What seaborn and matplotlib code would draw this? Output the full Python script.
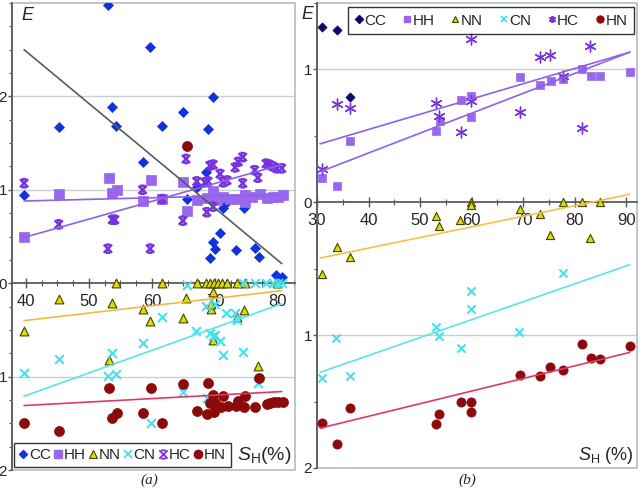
import numpy as np
import pandas as pd
import matplotlib
matplotlib.use("Agg")
import matplotlib.pyplot as plt
import seaborn as sns
from matplotlib.path import Path
from matplotlib.lines import Line2D
from matplotlib.patches import Rectangle
from matplotlib.ticker import FuncFormatter, MultipleLocator

# ---------------- data, panel (a) ----------------
# upper half: E plotted upward (CC, HH, HC)
a_cc_x = [53.0, 59.7, 69.7, 53.6, 64.9, 45.2, 54.3, 61.6, 68.9, 58.5, 68.6, 39.7, 67.1,
          65.5, 71.9, 71.3, 74.6, 70.8, 69.7, 70.0, 73.3, 76.3, 69.2, 77.0, 79.7, 80.6]
a_cc_e = [2.98, 2.53, 1.99, 1.89, 1.83, 1.67, 1.68, 1.68, 1.65, 1.30, 1.19, 0.94, 1.03,
          0.90, 0.87, 0.80, 0.80, 0.54, 0.44, 0.37, 0.36, 0.38, 0.27, 0.28, 0.09, 0.07]
a_hh_x = [39.7, 45.2, 53.2, 53.7, 54.4, 58.6, 59.8, 61.6, 65.0, 65.5, 67.1, 69.7, 68.7,
          70.3, 71.3, 72.4, 73.5, 74.8, 74.8, 75.9, 77.1, 78.3, 79.2, 80.0, 80.8]
a_hh_e = [0.50, 0.96, 1.13, 0.97, 1.00, 0.88, 1.11, 0.90, 1.08, 0.77, 0.89, 0.99, 0.91,
          0.89, 0.92, 0.90, 0.90, 0.94, 0.87, 0.92, 0.96, 0.91, 0.92, 0.92, 0.94]
a_hc_x = [39.7, 45.2, 53.7, 54.1, 53.0, 59.7, 58.5, 61.6, 64.9, 65.4, 67.1, 68.4, 68.9,
          69.2, 69.7, 70.8, 71.3, 71.9, 68.7, 69.7, 73.2, 73.7, 74.4, 74.4, 76.3, 76.8,
          78.1, 78.6, 79.2, 79.8, 80.6]
a_hc_e = [1.07, 0.63, 0.68, 0.68, 0.37, 0.37, 1.00, 0.90, 0.67, 1.33, 1.09, 1.08, 1.09,
          1.26, 1.27, 1.17, 1.08, 1.10, 0.76, 0.82, 1.24, 1.30, 1.35, 1.07, 1.21, 1.13,
          1.28, 1.27, 1.25, 1.23, 1.23]
# lower half: E plotted downward (NN, CN, HN)
a_nn_x = [54.3, 61.6, 67.1, 68.6, 69.2, 69.9, 70.5, 71.1, 71.9, 73.5, 74.8, 79.8, 45.2,
          53.6, 65.4, 58.6, 69.7, 69.3, 59.7, 64.9, 73.5, 74.6, 39.7, 69.7, 53.2, 76.8, 69.3]
a_nn_e = [0, 0, 0, 0, 0, 0, 0, 0, 0, 0, 0, 0, 0.17,
          0.21, 0.16, 0.28, 0.09, 0.28, 0.40, 0.37, 0.36, 0.29, 0.51, 0.61, 0.82, 0.89, 0.22]
a_cn_x = [39.7, 45.2, 53.6, 53.0, 54.3, 58.6, 61.6, 65.5, 59.8, 64.9, 67.0, 68.6, 70.0,
          69.2, 69.7, 70.0, 70.8, 71.3, 71.7, 73.2, 73.5, 74.4, 68.7, 76.8, 74.4, 76.3,
          78.1, 79.2, 80.0, 80.6]
a_cn_e = [0.96, 0.81, 0.75, 0.99, 0.97, 0.64, 0.36, 0.02, 1.50, 1.16, 0.51, 0.24, 0.22,
          0.53, 0.57, 0.55, 0.62, 0.77, 0.32, 0.32, 0.39, 0.74, 1.23, 1.07, 0, 0,
          0, 0, 0, 0]
a_hn_x = [39.7, 45.2, 53.2, 53.7, 54.4, 58.5, 59.8, 61.6, 64.9, 67.1, 68.7, 68.9, 69.7,
          69.2, 70.0, 69.8, 70.9, 71.3, 72.1, 73.3, 73.7, 74.6, 74.8, 76.3, 77.0, 78.3,
          78.7, 79.4, 80.0, 80.8, 65.5]
a_hn_e = [1.50, 1.58, 1.12, 1.44, 1.39, 1.39, 1.12, 1.50, 1.08, 1.37, 1.40, 1.07, 1.20,
          1.28, 1.28, 1.38, 1.33, 1.21, 1.32, 1.32, 1.26, 1.33, 1.21, 1.33, 1.02, 1.29,
          1.28, 1.27, 1.27, 1.27, -1.47]

# trend lines (value at start / end of range)
a_trend_x = [39.7, 80.6]
a_trend_cc = [2.50, 0.21]
a_trend_hh = [0.88, 0.95]
a_trend_hc = [0.49, 1.27]
a_trend_nn = [0.40, 0.08]
a_trend_cn = [1.21, 0.22]
a_trend_hn = [1.31, 1.16]

# ---------------- data, panel (b) ----------------
b_cc_x = [30.9, 33.8, 36.5]
b_cc_e = [1.32, 1.30, 0.79]
b_hh_x = [30.9, 33.9, 36.5, 53.1, 53.9, 57.9, 59.9, 59.9, 69.3, 73.3, 75.4, 77.8, 81.5,
          83.1, 84.9, 90.7]
b_hh_e = [0.18, 0.12, 0.46, 0.54, 0.61, 0.77, 0.80, 0.64, 0.94, 0.88, 0.91, 0.93, 1.00,
          0.95, 0.95, 0.98]
b_hc_x = [30.9, 33.8, 36.5, 53.1, 53.7, 57.9, 59.9, 59.9, 69.3, 73.2, 75.2, 77.8, 81.4, 83.0]
b_hc_e = [0.25, 0.74, 0.71, 0.75, 0.65, 0.53, 0.76, 1.23, 0.68, 1.09, 1.11, 0.95, 0.56, 1.18]
b_nn_x = [30.9, 33.9, 36.4, 53.1, 53.7, 57.8, 59.9, 59.9, 69.3, 73.2, 75.2, 77.8, 81.4,
          83.0, 84.9]
b_nn_e = [0.54, 0.34, 0.41, 0.10, 0.18, 0.13, 0.0, 0.02, 0.05, 0.09, 0.25, 0.0, 0.0,
          0.27, 0.0]
b_cn_x = [30.9, 33.7, 36.4, 53.1, 53.7, 57.9, 59.8, 59.8, 69.2, 77.7]
b_cn_e = [1.32, 1.02, 1.31, 0.94, 1.01, 1.10, 0.67, 0.80, 0.98, 0.53]
b_hn_x = [30.9, 33.9, 36.5, 53.1, 53.7, 57.9, 59.9, 59.9, 69.3, 73.2, 75.2, 77.8, 81.5,
          83.1, 84.9, 90.7]
b_hn_e = [1.66, 1.82, 1.55, 1.67, 1.59, 1.50, 1.50, 1.58, 1.30, 1.31, 1.24, 1.26, 1.07,
          1.17, 1.18, 1.08]

b_trend_x = [30.6, 90.7]
b_trend_hh = [0.23, 1.13]
b_trend_hc = [0.44, 1.13]
b_trend_nn = [0.42, -0.06]
b_trend_cn = [1.28, 0.47]
b_trend_hn = [1.70, 1.13]

labels = ["CC", "HH", "NN", "CN", "HC", "HN"]

# ---------------- style ----------------
sns.set_theme(style="white")
plt.rcParams["font.family"] = ["Liberation Sans", "DejaVu Sans"]
plt.rcParams["mathtext.fontset"] = "custom"
plt.rcParams["mathtext.it"] = "Liberation Sans:italic"
plt.rcParams["mathtext.rm"] = "Liberation Sans"

C_CC_A = "#1133dd"
C_CC_B = "#0a0a66"
C_HH = "#9966ee"
C_HC = "#7733dd"
C_NN = "#dddd00"
C_NN_EDGE = "#444400"
C_CN = "#44e0ee"
C_HN = "#8b0a0a"
GRID = "#c4d2d4"
FRAME = "#b4bcc0"

# X with a short bar on top and bottom, like the spreadsheet marker
hc_mark = Path([(-1, -1), (1, 1), (-1, 1), (1, -1), (-0.55, 1), (0.55, 1), (-0.55, -1), (0.55, -1)],
               [Path.MOVETO, Path.LINETO] * 4)


def scatter_all(ax, series, big=True):
    k = 1.0 if big else 0.85
    cc_x, cc_e, cc_col = series["CC"]
    sns.scatterplot(x=cc_x, y=cc_e, marker="D", s=26 * k, color=cc_col,
                    edgecolor=cc_col, linewidth=0.5, ax=ax, zorder=3)
    hh_x, hh_e = series["HH"]
    sns.scatterplot(x=hh_x, y=hh_e, marker="s", s=44 * k, color=C_HH,
                    edgecolor=C_HH, linewidth=0.5, ax=ax, zorder=3)
    hc_x, hc_e = series["HC"]
    if big:
        sns.scatterplot(x=hc_x, y=hc_e, marker=hc_mark, s=34, color=C_HC,
                        facecolors="none", edgecolor=C_HC, linewidth=1.8, ax=ax, zorder=3)
    else:
        sns.scatterplot(x=hc_x, y=hc_e, marker=(6, 2, 0), s=60, color=C_HC,
                        edgecolor=C_HC, linewidth=1.0, ax=ax, zorder=3)
    # lower half: plotted as -E
    nn_x, nn_e = series["NN"]
    sns.scatterplot(x=nn_x, y=-np.array(nn_e), marker="^", s=40 * k, color=C_NN,
                    edgecolor=C_NN_EDGE, linewidth=0.8, ax=ax, zorder=3)
    cn_x, cn_e = series["CN"]
    sns.scatterplot(x=cn_x, y=-np.array(cn_e), marker="x", s=40 * k, color=C_CN,
                    linewidth=1.5, ax=ax, zorder=3)
    hn_x, hn_e = series["HN"]
    sns.scatterplot(x=hn_x, y=-np.array(hn_e), marker="o", s=52 * k, color=C_HN,
                    edgecolor=C_HN, linewidth=0.5, ax=ax, zorder=3)


def style_axes(ax, xlim, ylim, yticks, yminor, xminor, xticks):
    ax.set_xlim(*xlim)
    ax.set_ylim(*ylim)
    ax.set_xticks(xticks)
    if xminor:
        ax.xaxis.set_minor_locator(MultipleLocator(xminor))
    ax.set_yticks(yticks)
    ax.yaxis.set_minor_locator(MultipleLocator(yminor))
    ax.yaxis.set_major_formatter(FuncFormatter(lambda v, p: f"{abs(v):g}"))
    for s in ["top", "right"]:
        ax.spines[s].set_visible(False)
    ax.spines["bottom"].set_position(("data", 0))
    ax.spines["bottom"].set_color("#555555")
    ax.spines["left"].set_color("#555555")
    ax.spines["bottom"].set_zorder(2)
    ax.add_patch(Rectangle((0, 0), 1, 1, transform=ax.transAxes, fill=False,
                           edgecolor=FRAME, linewidth=1.2, zorder=1, clip_on=False))
    ax.tick_params(axis="x", which="major", direction="inout", length=7, width=1,
                   color="#555555", labelsize=12, pad=4, bottom=True)
    ax.tick_params(axis="x", which="minor", direction="inout", length=4, width=0.8,
                   color="#555555", bottom=True)
    ax.tick_params(axis="y", which="major", direction="out", length=3, width=1,
                   color="#555555", labelsize=11, pad=0.5, left=True)
    ax.tick_params(axis="y", which="minor", direction="out", length=2.5, width=0.8,
                   color="#555555", left=True)
    ax.set_xlabel("")
    ax.set_ylabel("")


def legend_handles(cc_col, hc_marker, ms):
    return [
        Line2D([], [], ls="", marker="D", ms=ms * 0.75, color=cc_col),
        Line2D([], [], ls="", marker="s", ms=ms, color=C_HH),
        Line2D([], [], ls="", marker="^", ms=ms, mfc=C_NN, mec=C_NN_EDGE, mew=0.8),
        Line2D([], [], ls="", marker="x", ms=ms, color=C_CN, mew=1.3),
        Line2D([], [], ls="", marker=hc_marker, ms=ms, color=C_HC, mfc="none", mew=1.3),
        Line2D([], [], ls="", marker="o", ms=ms, color=C_HN),
    ]


fig = plt.figure(figsize=(6.4, 4.92), dpi=100)
ax_a = fig.add_axes([0.01875, 0.0447, 0.4422, 0.9492])
ax_b = fig.add_axes([0.4953, 0.0488, 0.5, 0.9451])

# ---------------- panel (a) ----------------
for g in [2, 1, -1]:
    ax_a.axhline(g, color=GRID, linewidth=1, zorder=0)
scatter_all(ax_a, {"CC": (a_cc_x, a_cc_e, C_CC_A), "HH": (a_hh_x, a_hh_e),
                   "HC": (a_hc_x, a_hc_e), "NN": (a_nn_x, a_nn_e),
                   "CN": (a_cn_x, a_cn_e), "HN": (a_hn_x, a_hn_e)}, big=True)
sns.lineplot(x=a_trend_x, y=a_trend_cc, color="#5a5a5a", linewidth=1.2, ax=ax_a, zorder=4)
sns.lineplot(x=a_trend_x, y=a_trend_hh, color="#9060e8", linewidth=1.2, ax=ax_a, zorder=4)
sns.lineplot(x=a_trend_x, y=a_trend_hc, color="#9060e8", linewidth=1.2, ax=ax_a, zorder=4)
sns.lineplot(x=a_trend_x, y=-np.array(a_trend_nn), color="#f5b942", linewidth=1.2, ax=ax_a, zorder=4)
sns.lineplot(x=a_trend_x, y=-np.array(a_trend_cn), color="#5ee2ea", linewidth=1.2, ax=ax_a, zorder=4)
sns.lineplot(x=a_trend_x, y=-np.array(a_trend_hn), color="#dd3a66", linewidth=1.2, ax=ax_a, zorder=4)
style_axes(ax_a, (37.78, 82.7), (-2, 3), [-2, -1, 0, 1, 2], 0.25, 2.5, [40, 50, 60, 70, 80])
ax_a.text(0.035, 0.974, "E", transform=ax_a.transAxes, fontsize=13, style="italic",
          ha="left", va="center")
leg_a = ax_a.legend(legend_handles(C_CC_A, hc_mark, 6), labels, ncol=6, loc="lower left",
                    bbox_to_anchor=(0.008, 0.006), fontsize=11, frameon=True,
                    fancybox=False, edgecolor="black", handlelength=0.5,
                    handletextpad=0.1, columnspacing=0.25, borderpad=0.35,
                    borderaxespad=0)
leg_a.get_frame().set_linewidth(1.0)
leg_a.set_zorder(6)

# ---------------- panel (b) ----------------
for g in [1, -1]:
    ax_b.axhline(g, color=GRID, linewidth=1, zorder=0)
scatter_all(ax_b, {"CC": (b_cc_x, b_cc_e, C_CC_B), "HH": (b_hh_x, b_hh_e),
                   "HC": (b_hc_x, b_hc_e), "NN": (b_nn_x, b_nn_e),
                   "CN": (b_cn_x, b_cn_e), "HN": (b_hn_x, b_hn_e)}, big=False)
sns.lineplot(x=b_trend_x, y=b_trend_hh, color="#9060e8", linewidth=1.2, ax=ax_b, zorder=4)
sns.lineplot(x=b_trend_x, y=b_trend_hc, color="#9060e8", linewidth=1.2, ax=ax_b, zorder=4)
sns.lineplot(x=b_trend_x, y=-np.array(b_trend_nn), color="#f5c04a", linewidth=1.2, ax=ax_b, zorder=4)
sns.lineplot(x=b_trend_x, y=-np.array(b_trend_cn), color="#5ee2ea", linewidth=1.2, ax=ax_b, zorder=4)
sns.lineplot(x=b_trend_x, y=-np.array(b_trend_hn), color="#dd3a66", linewidth=1.2, ax=ax_b, zorder=4)
style_axes(ax_b, (30, 92.1), (-2, 1.5), [-2, -1, 0, 1], 0.5, 5, [30, 40, 50, 60, 70, 80, 90])
leg_b = ax_b.legend(legend_handles(C_CC_B, (6, 2, 0), 5), labels, ncol=6, loc="upper left",
                    bbox_to_anchor=(0.097, 0.992), fontsize=11, frameon=True,
                    fancybox=False, edgecolor="black", handlelength=0.5,
                    handletextpad=0.1, columnspacing=1.12, borderpad=0.45,
                    borderaxespad=0)
leg_b.get_frame().set_linewidth(1.0)
leg_b.set_zorder(6)

# labels and captions
fig.text(0.481, 0.97, "E", fontsize=13, style="italic", ha="center", va="center")
fig.text(0.455, 0.074, r"$S_{\mathrm{H}}$(%)", fontsize=14, ha="right", va="center")
fig.text(0.99, 0.074, r"$S_{\mathrm{H}}$ (%)", fontsize=13, ha="right", va="center")
fig.text(0.234, 0.024, "(a)", fontsize=11, family="Liberation Serif", style="italic",
         ha="center", va="center")
fig.text(0.731, 0.024, "(b)", fontsize=11, family="Liberation Serif", style="italic",
         ha="center", va="center")

fig.savefig("out.png", dpi=100)
